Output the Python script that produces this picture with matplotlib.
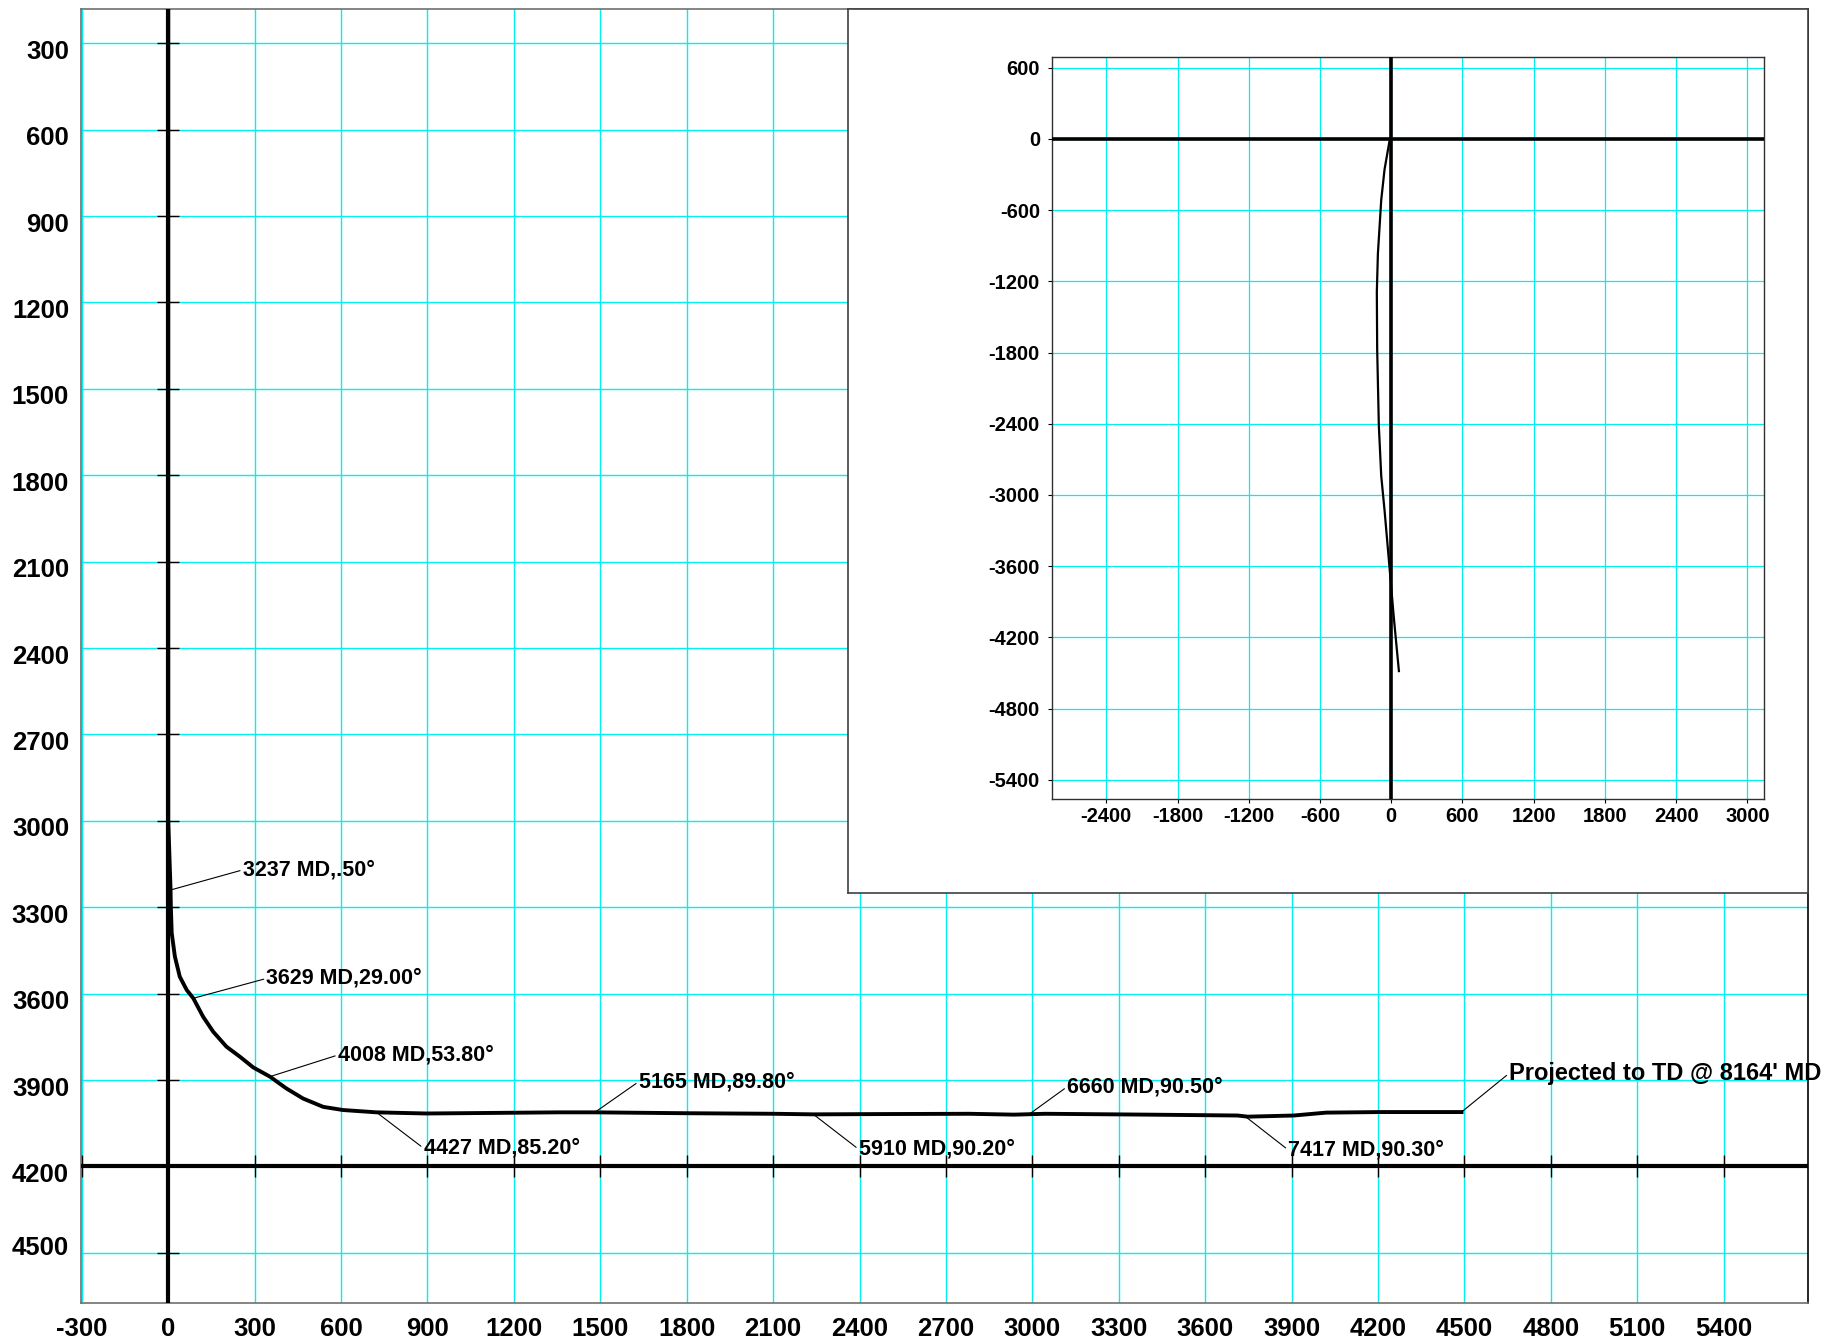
import matplotlib
matplotlib.use('Agg')
import matplotlib.pyplot as plt
import matplotlib.transforms as mtransforms
import numpy as np

plt.rcParams['font.family'] = ['Liberation Sans', 'DejaVu Sans']
plt.rcParams['font.weight'] = 'bold'
plt.rcParams['axes.unicode_minus'] = False

# vertical section: displacement vs TVD (ft)
vs = [0, 0, 8, 9, 12, 23, 40, 64, 87, 121, 156, 202, 249, 295, 353, 410, 468, 538,
      607, 723, 896, 1358, 1481, 1790, 2103, 2240, 2472, 2781, 2936, 3045, 3402,
      3712, 3748, 3908, 4020, 4208, 4490]
tvd = [0, 3000, 3240, 3300, 3390, 3471, 3541, 3587, 3616, 3680, 3732, 3784, 3819,
       3856, 3888, 3929, 3964, 3993, 4004, 4012, 4016, 4012, 4012, 4015, 4017, 4019,
       4018, 4017, 4020, 4017, 4020, 4023, 4027, 4023, 4013, 4011, 4011]

# plan view: E/W vs N/S (ft)
ew = [0, -14, -56, -84, -112, -121, -118, -104, -84, -56, -14, 22, 65]
ns = [0, -16, -258, -516, -968, -1290, -1774, -2419, -2839, -3129, -3613, -4032, -4484]

# survey stations (label, vs, tvd)
station_text = ["3237 MD,.50°", "3629 MD,29.00°", "4008 MD,53.80°", "4427 MD,85.20°",
                "5165 MD,89.80°", "5910 MD,90.20°", "6660 MD,90.50°", "7417 MD,90.30°",
                "Projected to TD @ 8164' MD"]
station_vs = [8, 87, 353, 723, 1481, 2240, 2990, 3739, 4490]
station_tvd = [3240, 3616, 3888, 4012, 4012, 4019, 4018, 4026, 4011]

# where the labels sit
label_x = [259, 341, 589, 887, 1634, 2398, 3121, 3889, 4656]
label_y = [3170, 3547, 3813, 4137, 3905, 4141, 3923, 4143, 3876]
label_size = [15.5] * 8 + [17]

main_xticks = np.arange(-300, 5401, 300)
main_yticks = np.arange(300, 4501, 300)
plan_xticks = np.arange(-2400, 3001, 600)
plan_yticks = np.arange(600, -5401, -600)

W, H = 1845, 1343
fig = plt.figure(figsize=(W / 100, H / 100), dpi=100)

def px_rect(x0, y0, x1, y1):
    return [x0 / W, 1 - y1 / H, (x1 - x0) / W, (y1 - y0) / H]

grid_c = '#00f0f0'

# ---- main vertical section
ax = fig.add_axes(px_rect(80.7, 8.7, 1808, 1303))
ax.set_xlim(-304, 5693)
ax.set_ylim(4674, 180)
ax.set_xticks(main_xticks)
ax.set_yticks(main_yticks)
ax.grid(True, color=grid_c, lw=1.0)
ax.set_axisbelow(True)
ax.tick_params(length=0, labelsize=18.5)
ax.tick_params(axis='y', pad=8.4)
ax.tick_params(axis='x', pad=10)
ylabs = ax.get_yticklabels()
for i, lab in enumerate(ylabs):
    dy = 7 if i == len(ylabs) - 1 else -6
    lab.set_transform(lab.get_transform() +
                      mtransforms.ScaledTranslation(0, dy / 100, fig.dpi_scale_trans))
for lab in ax.get_xticklabels() + ylabs:
    lab.set_fontweight('bold')
for s in ax.spines.values():
    s.set_color('#707070')
    s.set_linewidth(1.2)
ax.spines['right'].set_color('black')

ax.axvline(0, color='black', lw=3.0, zorder=3)
ax.axhline(4200, color='black', lw=3.0, zorder=3)
ax.plot(main_xticks, [4200] * len(main_xticks), ls='none', marker='|', ms=16,
        mew=1.0, color='black', zorder=3)
ax.plot([0] * len(main_yticks), main_yticks, ls='none', marker='_', ms=16,
        mew=1.0, color='black', zorder=3)

ax.plot(vs, tvd, color='black', lw=2.8, zorder=4, solid_joinstyle='round')

for i, t in enumerate(station_text):
    ax.annotate(t, xy=(station_vs[i], station_tvd[i]), xytext=(label_x[i], label_y[i]),
                ha='left', va='center', fontsize=label_size[i], fontweight='bold',
                zorder=5,
                arrowprops=dict(arrowstyle='-', lw=0.8, color='black',
                                shrinkA=0, shrinkB=0, relpos=(0, 0.5)))

# ---- plan view inset
box = fig.add_axes(px_rect(848.4, 8.7, 1808, 893.3))
box.set_facecolor('white')
box.set_xticks([])
box.set_yticks([])
for s in box.spines.values():
    s.set_color('#404040')
    s.set_linewidth(1.2)

ins = fig.add_axes(px_rect(1051.8, 57.3, 1763.7, 799.3))
ins.set_xlim(-2859, 3138)
ins.set_ylim(-5564, 687)
ins.set_xticks(plan_xticks)
ins.set_yticks(plan_yticks)
ins.grid(True, color=grid_c, lw=0.9)
ins.set_axisbelow(True)
ins.tick_params(length=3, width=0.8, labelsize=14.5)
ins.tick_params(axis='y', pad=5.5)
ins.tick_params(axis='x', pad=2.5)
for lab in ins.get_xticklabels() + ins.get_yticklabels():
    lab.set_fontweight('bold')
for s in ins.spines.values():
    s.set_color('#303030')
    s.set_linewidth(1.0)
ins.axvline(0, color='black', lw=2.6, zorder=3)
ins.axhline(0, color='black', lw=2.6, zorder=3)
ins.plot(ew, ns, color='black', lw=1.6, zorder=4)

fig.savefig('out.png', dpi=100)
